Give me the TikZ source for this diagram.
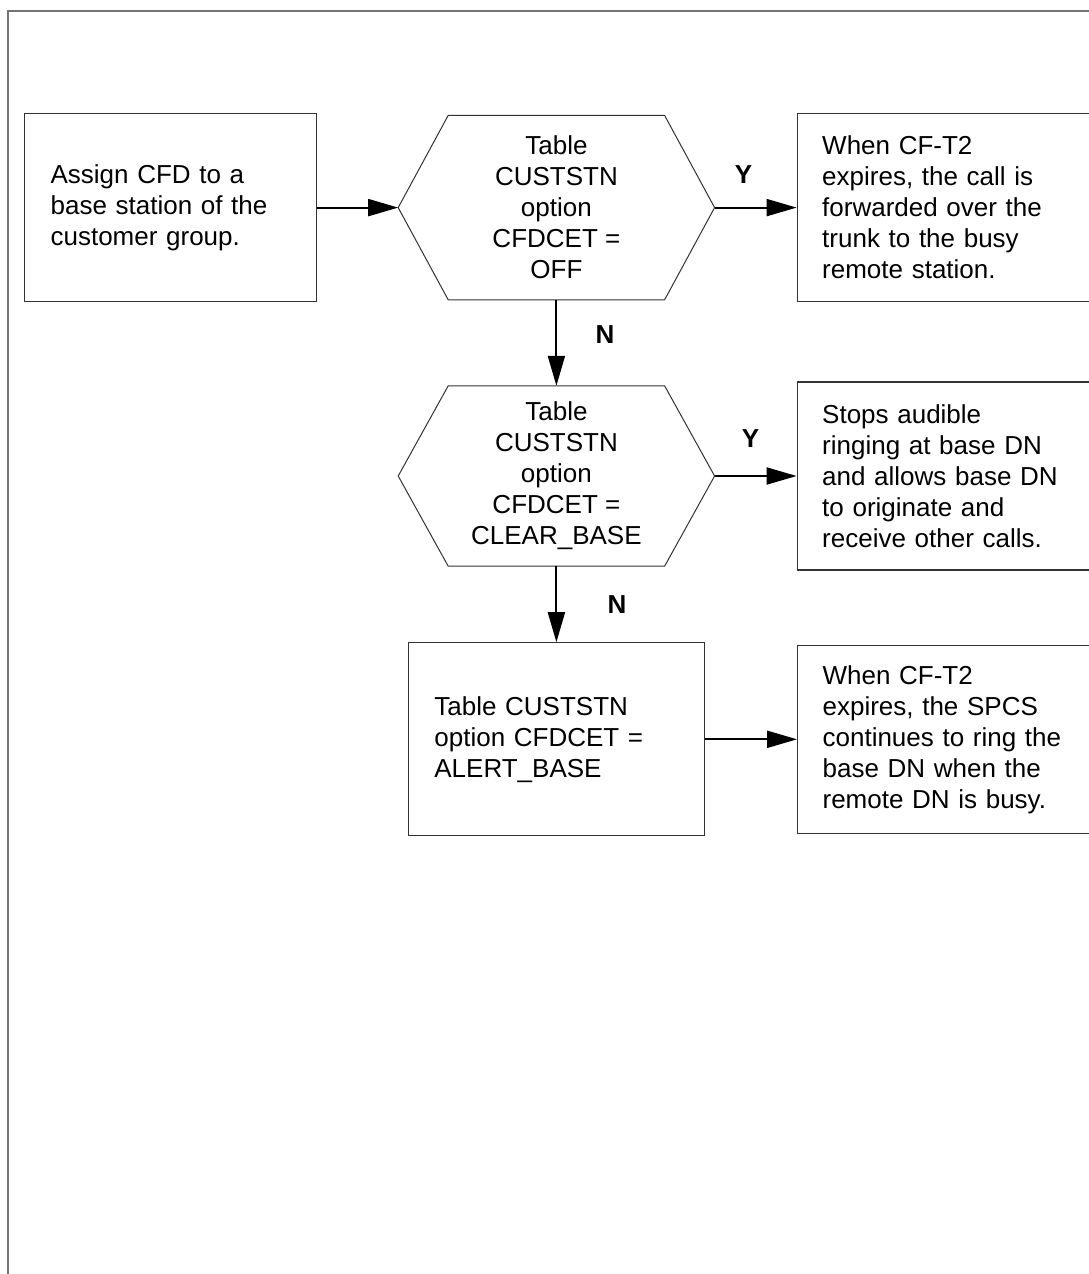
\documentclass[tikz,border=0pt]{standalone}
\usepackage{fontspec}
\setmainfont{Liberation Sans}
\usetikzlibrary{arrows.meta, positioning}

\begin{document}
\begin{tikzpicture}[
        x=1pt, y=-1pt,
        box/.style={rectangle, draw=black!80, line width=1.2pt, align=left, inner xsep=26pt, text width=240pt, minimum height=188pt, font=\fontsize{26}{31}\selectfont},
        result/.style={box, text width=260pt, inner xsep=25pt},
        decision/.style={rectangle, minimum width=316pt, minimum height=184pt, align=center, inner sep=0pt, font=\fontsize{26}{31}\selectfont},
        arrow/.style={-{Triangle[length=30pt, width=17pt]}, line width=2pt},
        yn/.style={font=\fontsize{26}{31}\selectfont\bfseries}
    ]
        \useasboundingbox (0,0) rectangle (1089,1274);
        \clip (0,0) rectangle (1089,1274);

        % Frame
        \draw[black!55, line width=2.5pt] (1100,11) -- (8,11) -- (8,1290);

        % Start
        \node[box, anchor=north west] (assign) at (24,113) {Assign CFD to a\\ base station of the\\ customer group.};

        % First check
        \node[decision, right=81pt of assign] (off) {Table\\ CUSTSTN\\ option\\ CFDCET =\\ OFF};
        \node[result, right=82pt of off] (fwd) {When CF-T2\\ expires, the call is\\ forwarded over the\\ trunk to the busy\\ remote station.};

        % Second check
        \node[decision, below=86pt of off, minimum height=180pt] (clear) {Table\\ CUSTSTN\\ option\\ CFDCET =\\ CLEAR\_BASE};
        \node[result, right=82pt of clear] (stops) {Stops audible\\ ringing at base DN\\ and allows base DN\\ to originate and\\ receive other calls.};

        % Remaining case
        \node[box, below=76pt of clear, text width=244pt, minimum height=193pt] (alert) {Table CUSTSTN\\ option CFDCET =\\ ALERT\_BASE};
        \node[result, right=92pt of alert] (ring) {When CF-T2\\ expires, the SPCS\\ continues to ring the\\ base DN when the\\ remote DN is busy.};

        % Hexagon outlines
        \foreach \n in {off, clear}
            \draw[black!80, line width=1pt] ([xshift=50pt]\n.north west) -- ([xshift=-50pt]\n.north east) -- (\n.east)
                -- ([xshift=-50pt]\n.south east) -- ([xshift=50pt]\n.south west) -- (\n.west) -- cycle;

        % Connectors
        \draw[arrow] (assign) -- (off);
        \draw[arrow] (off) -- node[yn, above=20pt, xshift=-12pt] {Y} (fwd);
        \draw[arrow] (off) -- node[yn, right=35pt, yshift=8pt] {N} (clear);
        \draw[arrow] (clear) -- node[yn, above=24pt, xshift=-5pt] {Y} (stops);
        \draw[arrow] (clear) -- node[yn, right=47pt] {N} (alert);
        \draw[arrow] (alert) -- (ring);

    \end{tikzpicture}
\end{document}
